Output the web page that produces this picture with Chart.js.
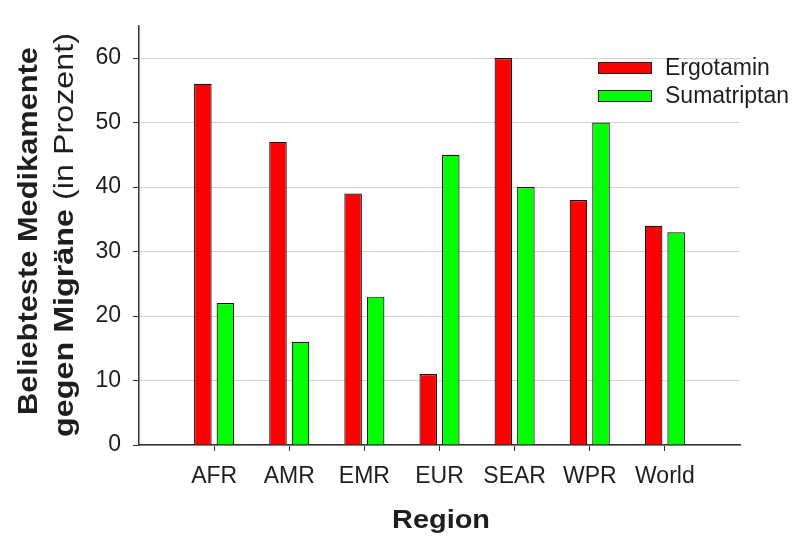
<!DOCTYPE html>
<html>
<head>
<meta charset="utf-8">
<script src="https://cdn.jsdelivr.net/npm/chart.js@4/dist/chart.umd.min.js"></script>
<style>
  html, body { margin: 0; padding: 0; background: #fff; }
  canvas { display: block; }
</style>
</head>
<body>
<canvas id="migraineChart" width="793" height="538"></canvas>
<script>
const regions = ["AFR", "AMR", "EMR", "EUR", "SEAR", "WPR", "World"];
const ergotamin = [56, 47, 39, 11, 60, 38, 34];
const sumatriptan = [22, 16, 23, 45, 40, 50, 33];
const seriesNames = ["Ergotamin", "Sumatriptan"];
const yTicks = [0, 10, 20, 30, 40, 50, 60];

const textColor = "#1e1e1e";
const axisColor = "#333333";
const fontFamily = "Arial, 'Liberation Sans', Helvetica, sans-serif";

// bars sit on a linear x scale from -1 to 7 so there is a gap on both sides
function toPoints(values) {
    return values.map((v, i) => ({ x: i, y: v }));
}

// draw text centred on (0,0) stretched to a given width
function fitText(ctx, text, width) {
    const w = ctx.measureText(text).width;
    ctx.save();
    ctx.scale(width / w, 1);
    ctx.fillText(text, 0, 0);
    ctx.restore();
}

const titlesAndLegend = {
    id: "titlesAndLegend",
    afterDraw(chart) {
        const ctx = chart.ctx;
        ctx.save();
        ctx.fillStyle = textColor;
        ctx.textAlign = "center";
        ctx.textBaseline = "alphabetic";

        // y title, line 1
        ctx.save();
        ctx.translate(37, 231);
        ctx.rotate(-Math.PI / 2);
        ctx.font = "bold 28px " + fontFamily;
        fitText(ctx, "Beliebteste Medikamente", 368);
        ctx.restore();

        // y title, line 2 (bold part + normal part)
        ctx.save();
        ctx.translate(73, 235);
        ctx.rotate(-Math.PI / 2);
        const boldPart = "gegen Migräne ";
        const normalPart = "(in Prozent)";
        ctx.font = "bold 28px " + fontFamily;
        const wb = ctx.measureText(boldPart).width;
        ctx.font = "28px " + fontFamily;
        const wn = ctx.measureText(normalPart).width;
        const s = 404 / (wb + wn);
        ctx.scale(s, 1);
        ctx.textAlign = "left";
        const start = -(wb + wn) / 2;
        ctx.font = "bold 28px " + fontFamily;
        ctx.fillText(boldPart, start, 0);
        ctx.font = "28px " + fontFamily;
        ctx.fillText(normalPart, start + wb, 0);
        ctx.restore();

        // x title
        ctx.save();
        ctx.translate(441, 528);
        ctx.font = "bold 25px " + fontFamily;
        fitText(ctx, "Region", 98);
        ctx.restore();

        // legend
        ctx.textAlign = "left";
        ctx.textBaseline = "middle";
        ctx.font = "23px " + fontFamily;
        chart.data.datasets.forEach((ds, i) => {
            const y = 62 + i * 28;
            ctx.fillStyle = ds.backgroundColor;
            ctx.fillRect(598, y, 54, 12);
            ctx.strokeStyle = "#222";
            ctx.lineWidth = 1;
            ctx.strokeRect(598.5, y + 0.5, 53, 11);
            ctx.fillStyle = textColor;
            ctx.fillText(ds.label, 665, y + 7);
        });
        ctx.restore();
    }
};

new Chart(document.getElementById("migraineChart").getContext("2d"), {
    type: "bar",
    data: {
        datasets: [
            {
                label: seriesNames[0],
                data: toPoints(ergotamin),
                backgroundColor: "#ff0000",
                borderColor: "#111",
                borderWidth: 1.2,
                barPercentage: 0.78,
                categoryPercentage: 0.6
            },
            {
                label: seriesNames[1],
                data: toPoints(sumatriptan),
                backgroundColor: "#00ff00",
                borderColor: "#111",
                borderWidth: 1.2,
                barPercentage: 0.78,
                categoryPercentage: 0.6
            }
        ]
    },
    options: {
        responsive: false,
        animation: false,
        layout: { padding: { left: 0, right: 53, top: 13, bottom: 0 } },
        plugins: {
            legend: { display: false },
            tooltip: { enabled: false }
        },
        scales: {
            x: {
                type: "linear",
                min: -1,
                max: 7,
                offset: false,
                afterBuildTicks: axis => {
                    axis.ticks = regions.map((r, i) => ({ value: i }));
                },
                afterFit: axis => { axis.height = 93; },
                ticks: {
                    color: textColor,
                    font: { family: fontFamily, size: 23 },
                    padding: 12,
                    maxRotation: 0,
                    autoSkip: false,
                    callback: value => regions[value] ?? ""
                },
                grid: {
                    offset: false,
                    drawOnChartArea: false,
                    drawTicks: true,
                    tickLength: 6,
                    tickColor: axisColor
                },
                border: { display: true, color: axisColor, width: 1.5 }
            },
            y: {
                min: 0,
                max: 65,
                afterBuildTicks: axis => {
                    axis.ticks = yTicks.map(v => ({ value: v }));
                },
                afterFit: axis => { axis.width = 139; },
                ticks: {
                    color: textColor,
                    font: { family: fontFamily, size: 23 },
                    padding: 12
                },
                grid: {
                    color: "#d2d2d2",
                    lineWidth: 1,
                    tickLength: 6,
                    tickColor: axisColor
                },
                border: { display: true, color: axisColor, width: 1.5 }
            }
        }
    },
    plugins: [titlesAndLegend]
});
</script>
</body>
</html>
